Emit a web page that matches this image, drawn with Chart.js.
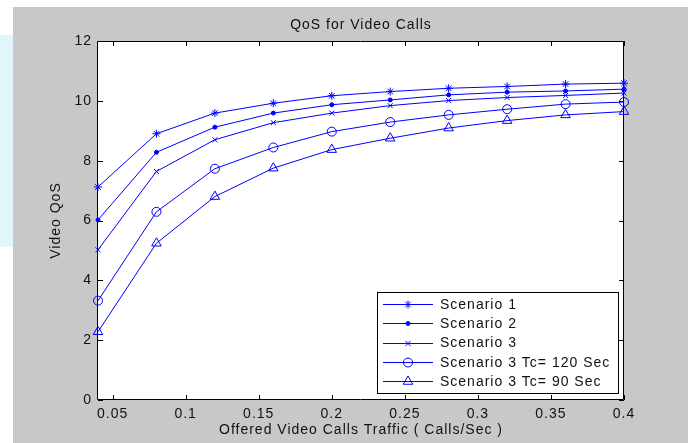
<!DOCTYPE html>
<html>
<head>
<meta charset="utf-8">
<script src="https://cdn.jsdelivr.net/npm/chart.js@4/dist/chart.umd.min.js"></script>
<style>
  html, body { margin: 0; padding: 0; background: #fff; }
  #wrap { width: 688px; height: 443px; position: relative; }
</style>
</head>
<body>
<div id="wrap"><canvas id="qos" width="688" height="443"></canvas></div>
<script>
// data
var traffic = [0.04, 0.08, 0.12, 0.16, 0.2, 0.24, 0.28, 0.32, 0.36, 0.4];
var scenario1 = [7.12, 8.90, 9.59, 9.92, 10.17, 10.31, 10.42, 10.48, 10.56, 10.59];
var scenario2 = [6.02, 8.28, 9.12, 9.59, 9.87, 10.03, 10.20, 10.29, 10.33, 10.39];
var scenario3 = [5.02, 7.64, 8.70, 9.27, 9.59, 9.84, 10.01, 10.11, 10.18, 10.26];
var scenario3Tc120 = [3.32, 6.29, 7.73, 8.44, 8.97, 9.29, 9.53, 9.72, 9.89, 9.96];
var scenario3Tc90 = [2.28, 5.24, 6.80, 7.75, 8.37, 8.75, 9.09, 9.34, 9.53, 9.64];

var seriesNames = ['Scenario 1', 'Scenario 2', 'Scenario 3', 'Scenario 3 Tc= 120 Sec', 'Scenario 3 Tc= 90 Sec'];
var xTicks = [0.05, 0.1, 0.15, 0.2, 0.25, 0.3, 0.35, 0.4];
var xTickLabels = ['0.05', '0.1', '0.15', '0.2', '0.25', '0.3', '0.35', '0.4'];
var yTicks = [0, 2, 4, 6, 8, 10, 12];
var yTickLabels = ['0', '2', '4', '6', '8', '10', '12'];

var FONT = '"Liberation Sans", Arial, sans-serif';
var BLUE = '#0000ff';

function pts(arr){
	return arr.map(function(v, i){ return {x: traffic[i], y: v}; });
}

function makeSet(label, arr, style, radius, fill){
	return {
		label: label,
		data: pts(arr),
		borderColor: BLUE,
		backgroundColor: fill ? BLUE : 'rgba(0,0,0,0)',
		borderWidth: 1,
		pointStyle: style,
		pointRadius: radius,
		pointBorderWidth: 1,
		pointHoverRadius: radius,
		tension: 0,
		clip: false
	};
}

// grey figure background, the cyan strip at the far left
var backdrop = {
	id: 'backdrop',
	beforeDraw: function(chart){
		var c = chart.ctx;
		c.letterSpacing = '1px'; // matlab text runs a bit wide
		c.save();
		c.fillStyle = '#ffffff';
		c.fillRect(0, 0, 688, 443);
		c.fillStyle = '#dff6fb';
		c.fillRect(0, 35, 13, 212);
		c.fillStyle = '#c8c8c8';
		c.fillRect(13, 7, 675, 436);
		var a = chart.chartArea;
		c.fillStyle = '#ffffff';
		c.fillRect(a.left, a.top, a.right - a.left, a.bottom - a.top);
		c.restore();
	}
};

// matlab style box with inward ticks + title
var frame = {
	id: 'frame',
	beforeDatasetsDraw: function(chart){
		var c = chart.ctx, a = chart.chartArea;
		var xs = chart.scales.x, ys = chart.scales.y;
		c.save();
		c.strokeStyle = '#000';
		c.lineWidth = 1;
		c.beginPath();
		c.rect(Math.round(a.left) - 0.5, Math.round(a.top) + 0.5, Math.round(a.right - a.left), Math.round(a.bottom - a.top) - 1);
		xTicks.forEach(function(v){
			var px = Math.round(xs.getPixelForValue(v)) + 0.5;
			c.moveTo(px, a.bottom); c.lineTo(px, a.bottom - 5);
			c.moveTo(px, a.top); c.lineTo(px, a.top + 5);
		});
		yTicks.forEach(function(v){
			var py = Math.round(ys.getPixelForValue(v)) + 0.5;
			c.moveTo(a.left, py); c.lineTo(a.left + 5, py);
			c.moveTo(a.right, py); c.lineTo(a.right - 5, py);
		});
		c.stroke();
		c.fillStyle = '#111';
		c.font = '14px ' + FONT;
		c.textAlign = 'center';
		c.textBaseline = 'middle';
		c.fillText('QoS for Video Calls', (a.left + a.right) / 2, 25);
		c.restore();
	}
};

// legend box in the lower right, markers drawn like the datasets
var boxLegend = {
	id: 'boxLegend',
	afterDatasetsDraw: function(chart){
		var c = chart.ctx;
		var bx = 377, by = 292, bw = 241, bh = 101;
		c.save();
		c.fillStyle = '#fff';
		c.fillRect(bx, by, bw, bh);
		c.strokeStyle = '#000';
		c.lineWidth = 1;
		c.strokeRect(bx + 0.5, by + 0.5, bw, bh);
		chart.data.datasets.forEach(function(ds, i){
			var y = by + 12 + i * 19.3;
			c.strokeStyle = ds.borderColor;
			c.lineWidth = 1;
			c.beginPath();
			c.moveTo(383, Math.round(y) + 0.5);
			c.lineTo(433, Math.round(y) + 0.5);
			c.stroke();
			c.fillStyle = ds.backgroundColor;
			if (Chart.helpers && Chart.helpers.drawPoint) {
				Chart.helpers.drawPoint(c, {pointStyle: ds.pointStyle, radius: ds.pointRadius, borderWidth: 1}, 408, Math.round(y) + 0.5);
			}
			c.fillStyle = '#111';
			c.font = '14px ' + FONT;
			c.textAlign = 'left';
			c.textBaseline = 'middle';
			c.fillText(ds.label, 440, y + 1);
		});
		c.restore();
	}
};

var ctx = document.getElementById('qos');
ctx.getContext('2d').letterSpacing = '1px';
var myChart = new Chart(ctx, {
	type: 'line',
	data: {
		datasets: [
			makeSet(seriesNames[0], scenario1, 'star', 4, false),
			makeSet(seriesNames[1], scenario2, 'circle', 2, true),
			makeSet(seriesNames[2], scenario3, 'crossRot', 3.5, false),
			makeSet(seriesNames[3], scenario3Tc120, 'circle', 4.5, false),
			makeSet(seriesNames[4], scenario3Tc90, 'triangle', 5.5, false)
		]
	},
	options: {
		responsive: false,
		animation: false,
		devicePixelRatio: 1,
		layout: { padding: { top: 41, right: 64, left: 0, bottom: 0 } },
		plugins: {
			legend: { display: false },
			title: { display: false },
			tooltip: { enabled: false }
		},
		scales: {
			x: {
				type: 'linear',
				min: 0.04,
				max: 0.4,
				afterBuildTicks: function(scale){
					scale.ticks = xTicks.map(function(v){ return {value: v}; });
				},
				afterFit: function(scale){ scale.height = 43; },
				grid: { display: false, drawTicks: false },
				border: { display: false },
				ticks: {
					padding: 6,
					color: '#111',
					font: { family: FONT, size: 14 },
					maxRotation: 0,
					autoSkip: false,
					callback: function(v){
						var k = xTicks.indexOf(Math.round(v * 100) / 100);
						return k >= 0 ? xTickLabels[k] : '';
					}
				},
				title: {
					display: true,
					text: 'Offered Video Calls Traffic ( Calls/Sec )',
					color: '#111',
					font: { family: FONT, size: 14 },
					padding: { top: 0, bottom: 4 }
				}
			},
			y: {
				min: 0,
				max: 12,
				afterBuildTicks: function(scale){
					scale.ticks = yTicks.map(function(v){ return {value: v}; });
				},
				afterFit: function(scale){ scale.width = 98; },
				grid: { display: false, drawTicks: false },
				border: { display: false },
				ticks: {
					padding: 6,
					color: '#111',
					font: { family: FONT, size: 14 },
					callback: function(v){
						var k = yTicks.indexOf(v);
						return k >= 0 ? yTickLabels[k] : '';
					}
				},
				title: {
					display: true,
					text: 'Video QoS',
					color: '#111',
					font: { family: FONT, size: 14 },
					padding: { top: 48, bottom: 0 }
				}
			}
		}
	},
	plugins: [backdrop, frame, boxLegend]
});
</script>
</body>
</html>
